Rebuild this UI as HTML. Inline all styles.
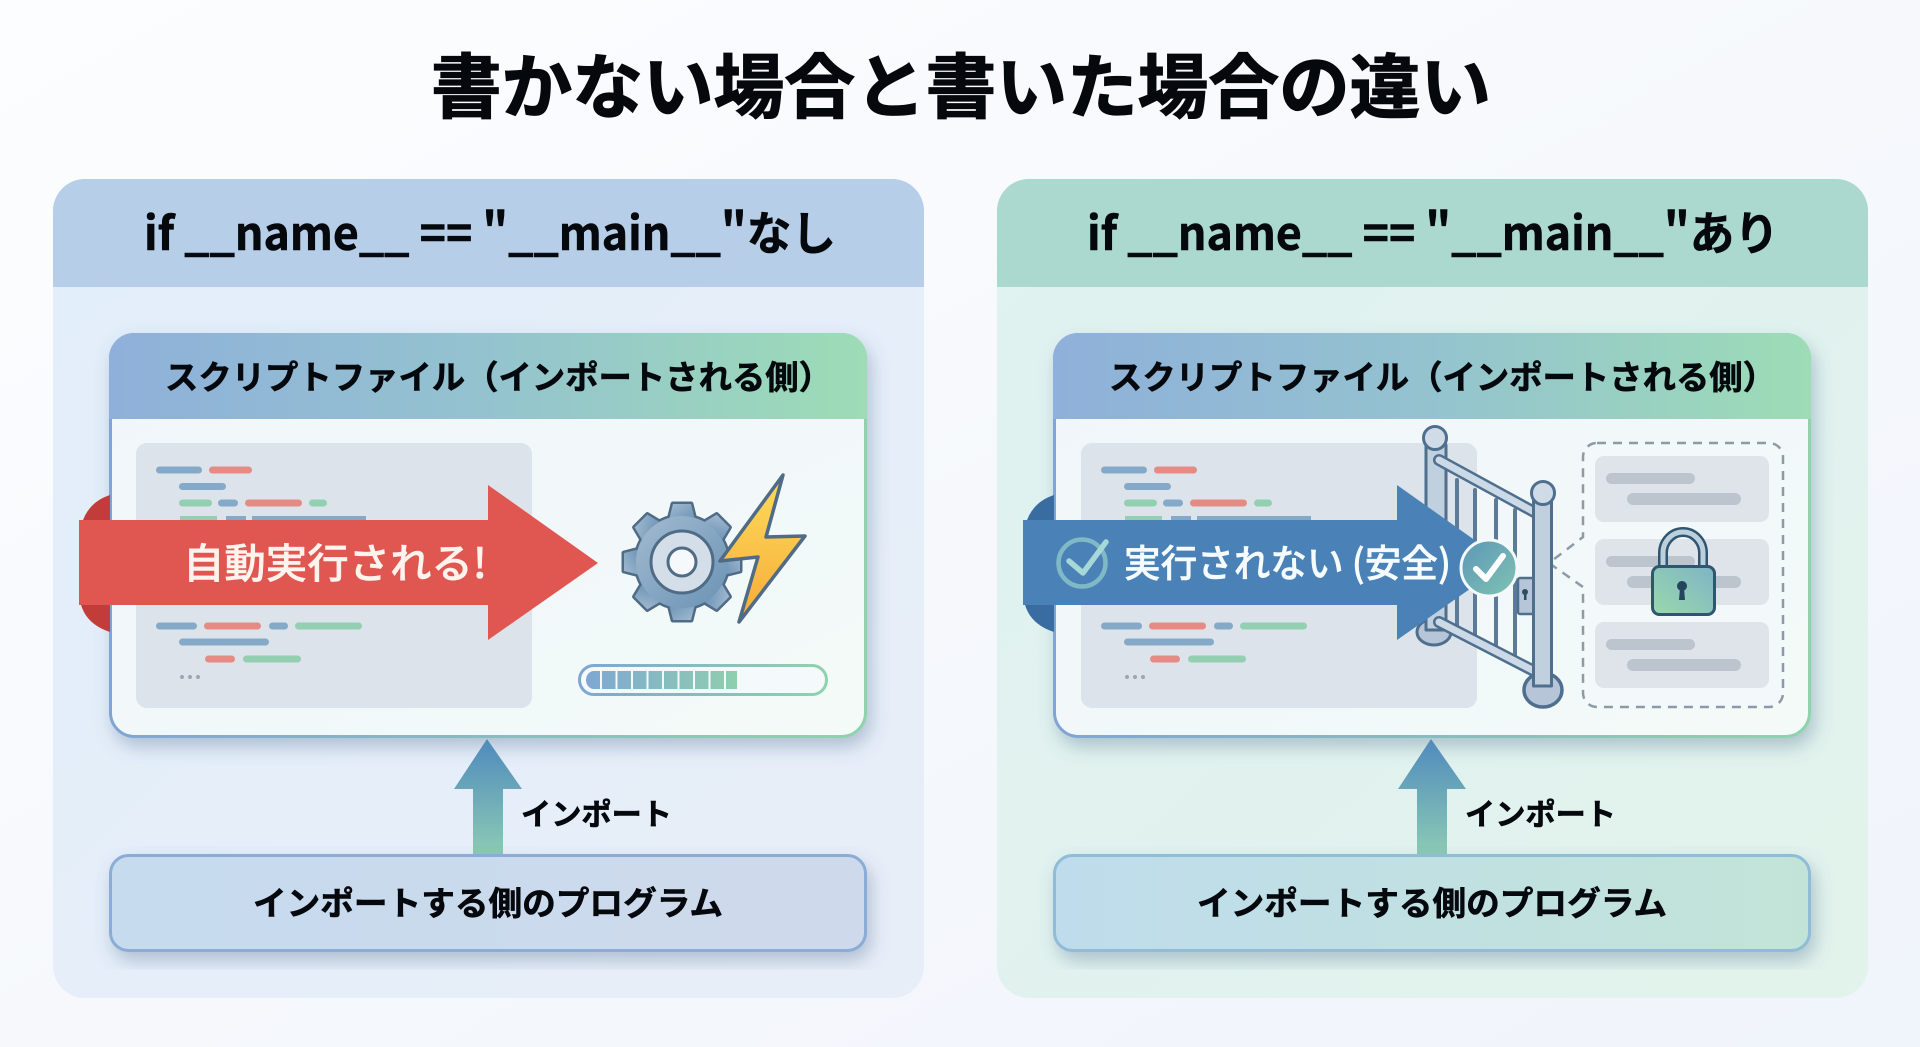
<!DOCTYPE html>
<html lang="ja">
<head>
<meta charset="utf-8">
<title>書かない場合と書いた場合の違い</title>
<style>
html,body{margin:0;padding:0;background:#f6f9fc;width:1920px;height:1047px;overflow:hidden}
svg{display:block}
text{font-family:"Noto Sans CJK JP","Liberation Sans",sans-serif;font-weight:700;fill:#05080c;stroke:#05080c;stroke-width:0.6px}
</style>
</head>
<body>
<svg xmlns="http://www.w3.org/2000/svg" width="1920" height="1047" viewBox="0 0 1920 1047">
<defs>
<linearGradient id="bg" x1="0" y1="0" x2="1" y2="1"><stop offset="0" stop-color="#fcfdfe"/><stop offset="1" stop-color="#f0f4fb"/></linearGradient>
<linearGradient id="pl" x1="0" y1="0" x2="1" y2="1"><stop offset="0" stop-color="#e2eefa"/><stop offset="1" stop-color="#e8eef8"/></linearGradient>
<linearGradient id="pr" x1="0" y1="0" x2="1" y2="1"><stop offset="0" stop-color="#e0f2f1"/><stop offset="1" stop-color="#e2f3ec"/></linearGradient>
<linearGradient id="hd" x1="0" y1="0" x2="1" y2="0"><stop offset="0" stop-color="#8fb0da"/><stop offset="0.5" stop-color="#94c3cf"/><stop offset="1" stop-color="#9ddcb6"/></linearGradient>
<linearGradient id="bd" x1="0" y1="0" x2="1" y2="0"><stop offset="0" stop-color="#7fa6d2"/><stop offset="1" stop-color="#8fd3ad"/></linearGradient>
<linearGradient id="cf" x1="0" y1="0" x2="1" y2="1"><stop offset="0" stop-color="#f1f6fb"/><stop offset="1" stop-color="#f3faf8"/></linearGradient>
<linearGradient id="up" x1="0" y1="0" x2="0" y2="1"><stop offset="0" stop-color="#4f8abd"/><stop offset="1" stop-color="#8ccbb4"/></linearGradient>
<linearGradient id="lb" x1="0" y1="0" x2="1" y2="0"><stop offset="0" stop-color="#c6dbee"/><stop offset="1" stop-color="#cfd9ec"/></linearGradient>
<linearGradient id="lbr" x1="0" y1="0" x2="1" y2="0"><stop offset="0" stop-color="#bfdcec"/><stop offset="1" stop-color="#c2e4d8"/></linearGradient>
<linearGradient id="bolt" x1="0" y1="0" x2="0" y2="1"><stop offset="0" stop-color="#fbdc5a"/><stop offset="1" stop-color="#f8ab3a"/></linearGradient>
<linearGradient id="prog" gradientUnits="userSpaceOnUse" x1="586" y1="0" x2="737" y2="0"><stop offset="0" stop-color="#7fa7d2"/><stop offset="1" stop-color="#8fcfae"/></linearGradient>
<linearGradient id="lockb" x1="0" y1="1" x2="1" y2="0"><stop offset="0" stop-color="#9bd8ac"/><stop offset="1" stop-color="#7db4c6"/></linearGradient>
<linearGradient id="chk" x1="0" y1="0" x2="1" y2="1"><stop offset="0" stop-color="#5d96b8"/><stop offset="1" stop-color="#7fc4b2"/></linearGradient>
<linearGradient id="gearb" x1="0" y1="0" x2="1" y2="1"><stop offset="0" stop-color="#a3bbd0"/><stop offset="1" stop-color="#6a92b5"/></linearGradient>
<filter id="sh" x="-10%" y="-10%" width="120%" height="130%"><feDropShadow dx="4" dy="9" stdDeviation="9" flood-color="#506c90" flood-opacity="0.36"/></filter>
<g id="code">
<rect x="136" y="443" width="396" height="265" rx="11" fill="#dde3ea"/>
<g fill="#85a9c9">
<rect x="156" y="466.500" width="46" height="7" rx="3.500"/><rect x="179" y="483" width="47" height="7" rx="3.500"/>
<rect x="218" y="499.500" width="20" height="7" rx="3.500"/><rect x="226" y="516" width="20" height="7"/><rect x="252" y="516" width="114" height="7"/>
<rect x="156" y="622.500" width="41" height="7" rx="3.500"/><rect x="269" y="622.500" width="19" height="7" rx="3.500"/><rect x="179" y="638.500" width="90" height="7" rx="3.500"/>
</g>
<g fill="#e58b84">
<rect x="209" y="466.500" width="43" height="7" rx="3.500"/><rect x="245" y="499.500" width="57" height="7" rx="3.500"/>
<rect x="204" y="622.500" width="57" height="7" rx="3.500"/><rect x="205" y="655.500" width="30" height="7" rx="3.500"/>
</g>
<g fill="#93cfb1">
<rect x="179" y="499.500" width="33" height="7" rx="3.500"/><rect x="309" y="499.500" width="18" height="7" rx="3.500"/><rect x="180" y="516" width="37" height="7"/>
<rect x="295" y="622.500" width="67" height="7" rx="3.500"/><rect x="243" y="655.500" width="58" height="7" rx="3.500"/>
</g>
<g fill="#9aa6b4"><circle cx="182" cy="677" r="2"/><circle cx="190" cy="677" r="2"/><circle cx="198" cy="677" r="2"/></g>
</g>
<g id="cardbase">
<rect x="110.500" y="334.500" width="755" height="402" rx="24" fill="url(#cf)" stroke="url(#bd)" stroke-width="3" filter="url(#sh)"/>
<path d="M109 419V358a25 25 0 0 1 25-25H842a25 25 0 0 1 25 25V419Z" fill="url(#hd)"/>
</g>
<g id="upar"><path d="M487 739L522 789H503V855H473V789H454Z" fill="url(#up)"/></g>
<path id="tooth" d="M-13 -42L-9 -58H9L13 -42Z"/>
<g id="gearshape">
<use href="#tooth"/><use href="#tooth" transform="rotate(45)"/><use href="#tooth" transform="rotate(90)"/><use href="#tooth" transform="rotate(135)"/>
<use href="#tooth" transform="rotate(180)"/><use href="#tooth" transform="rotate(225)"/><use href="#tooth" transform="rotate(270)"/><use href="#tooth" transform="rotate(315)"/>
<circle r="46"/>
</g>
<g id="inner">
<rect x="1595" y="0" width="174" height="66" rx="9" fill="#dfe4ea"/>
<rect x="1606" y="17" width="89" height="11" rx="5.500" fill="#bcc4ce"/>
<rect x="1627" y="37" width="114" height="12" rx="6" fill="#bcc4ce"/>
</g>
</defs>

<rect width="1920" height="1047" fill="url(#bg)"/>

<text x="431" y="112" font-size="70" textLength="1060" lengthAdjust="spacingAndGlyphs" style="stroke-width:1.2px">書かない場合と書いた場合の違い</text>

<!-- LEFT PANEL -->
<rect x="53" y="179" width="871" height="819" rx="32" fill="url(#pl)"/>
<path d="M53 287V211a32 32 0 0 1 32-32H892a32 32 0 0 1 32 32V287Z" fill="#b6cee7"/>
<text x="144" y="250" font-size="46" textLength="692" lengthAdjust="spacingAndGlyphs">if __name__ == "__main__"なし</text>

<use href="#cardbase"/>
<text x="165" y="389" font-size="33" textLength="667" lengthAdjust="spacingAndGlyphs">スクリプトファイル（インポートされる側）</text>
<use href="#code"/>

<path d="M110 495Q79 505 79 545V590Q79 622 110 632Z" fill="#c23c39"/>
<path d="M79 520H488V485L598 563L488 640V605H79Z" fill="#e05751"/>
<text x="183" y="578" font-size="41" textLength="304" lengthAdjust="spacingAndGlyphs" style="fill:#fff3ee;stroke:#fff3ee;stroke-width:0.5px;font-weight:500">自動実行される!</text>

<!-- gear -->
<g transform="translate(682,562)">
<use href="#gearshape" fill="#4f6b86" stroke="#4f6b86" stroke-width="5" stroke-linejoin="round"/>
<use href="#gearshape" fill="url(#gearb)"/>
<circle r="31" fill="#d3dee8" stroke="#4f6b86" stroke-width="3"/>
<circle r="14" fill="#f6f9fb" stroke="#4f6b86" stroke-width="3"/>
</g>
<path d="M783 475L720 561L758 557L739 622L805 536L766 537Z" fill="url(#bolt)" stroke="#4f6b86" stroke-width="3.500" stroke-linejoin="round"/>

<!-- progress -->
<rect x="579.500" y="665.500" width="247" height="29" rx="14.500" fill="#f4f9fb" stroke="url(#bd)" stroke-width="3"/>
<g fill="url(#prog)">
<path d="M600 671V689H594a8 9 0 0 1-8-9a8 9 0 0 1 8-9Z"/>
<rect x="602" y="671" width="13.500" height="18"/><rect x="617.500" y="671" width="13.500" height="18"/><rect x="633" y="671" width="13.500" height="18"/>
<rect x="648.500" y="671" width="13.500" height="18"/><rect x="664" y="671" width="13.500" height="18"/><rect x="679.500" y="671" width="13.500" height="18"/>
<rect x="695" y="671" width="13.500" height="18"/><rect x="710.500" y="671" width="13.500" height="18"/><rect x="726" y="671" width="11" height="18"/>
</g>

<use href="#upar"/>
<text x="521" y="825" font-size="30" textLength="151" lengthAdjust="spacingAndGlyphs">インポート</text>
<rect x="110.500" y="855.500" width="755" height="95" rx="18" fill="url(#lb)" stroke="#8aacd6" stroke-width="3" filter="url(#sh)"/>
<text x="253" y="915" font-size="33" textLength="470" lengthAdjust="spacingAndGlyphs">インポートする側のプログラム</text>

<!-- RIGHT PANEL -->
<rect x="997" y="179" width="871" height="819" rx="32" fill="url(#pr)"/>
<path d="M997 287V211a32 32 0 0 1 32-32H1836a32 32 0 0 1 32 32V287Z" fill="#abd9cf"/>
<text x="1087" y="250" font-size="46" textLength="692" lengthAdjust="spacingAndGlyphs">if __name__ == "__main__"あり</text>

<use href="#cardbase" transform="translate(944,0)"/>
<text x="1109" y="389" font-size="33" textLength="667" lengthAdjust="spacingAndGlyphs">スクリプトファイル（インポートされる側）</text>
<use href="#code" transform="translate(945,0)"/>

<!-- dashed box -->
<path d="M1597 443H1769a14 14 0 0 1 14 14V693a14 14 0 0 1-14 14H1597a14 14 0 0 1-14-14V587L1549 563L1583 537V457a14 14 0 0 1 14-14Z" fill="#f3f8fa" stroke="#8d9ba9" stroke-width="2.500" stroke-dasharray="9 7"/>
<use href="#inner" transform="translate(0,456)"/>
<use href="#inner" transform="translate(0,539)"/>
<use href="#inner" transform="translate(0,622)"/>

<!-- lock -->
<path d="M1663 570V553a20 21 0 0 1 40 0V570" fill="none" stroke="#2f5570" stroke-width="10"/>
<path d="M1663 570V553a20 21 0 0 1 40 0V570" fill="none" stroke="#bccfdd" stroke-width="5"/>
<rect x="1652.500" y="566.500" width="62" height="48" rx="7" fill="url(#lockb)" stroke="#2f5570" stroke-width="3"/>
<circle cx="1682" cy="586" r="5" fill="#23455e"/><path d="M1680 588H1684L1685 600H1679Z" fill="#23455e"/>

<!-- gate -->
<g stroke-linecap="round" stroke-linejoin="round">
<g stroke="#5d7a98" stroke-width="4" fill="none">
<line x1="1457" y1="480" x2="1457" y2="632"/><line x1="1475" y1="490" x2="1475" y2="645"/><line x1="1496" y1="500" x2="1496" y2="655"/><line x1="1515" y1="510" x2="1515" y2="665"/>
</g>
<ellipse cx="1434" cy="632" rx="17" ry="13" fill="#b6c6d8" stroke="#4f6f8e" stroke-width="3"/>
<rect x="1426" y="445" width="20" height="185" fill="#c1d0df" stroke="#4f6f8e" stroke-width="3"/>
<circle cx="1435" cy="438" r="11.500" fill="#cfdbe7" stroke="#4f6f8e" stroke-width="3"/>
<line x1="1439" y1="460" x2="1536" y2="513" stroke="#4f6f8e" stroke-width="12"/>
<line x1="1439" y1="460" x2="1536" y2="513" stroke="#ccd9e6" stroke-width="7"/>
<line x1="1439" y1="622" x2="1536" y2="672" stroke="#4f6f8e" stroke-width="12"/>
<line x1="1439" y1="622" x2="1536" y2="672" stroke="#ccd9e6" stroke-width="7"/>
<rect x="1518" y="578" width="16" height="36" rx="2" fill="#b6c6d8" stroke="#4f6f8e" stroke-width="2.500"/>
<circle cx="1525" cy="592" r="3" fill="#2f4c66"/><rect x="1524" y="592" width="2.500" height="8" fill="#2f4c66"/>
<ellipse cx="1543" cy="690" rx="19" ry="17" fill="#b6c6d8" stroke="#4f6f8e" stroke-width="3.500"/>
<rect x="1533.500" y="500" width="18" height="186" fill="#c1d0df" stroke="#4f6f8e" stroke-width="3"/>
<circle cx="1543" cy="493" r="11.500" fill="#cfdbe7" stroke="#4f6f8e" stroke-width="3"/>
</g>

<!-- blue arrow -->
<path d="M1054 495Q1023 505 1023 545V590Q1023 622 1054 632Z" fill="#396da2"/>
<path d="M1023 520H1397V485L1507 563L1397 640V605H1023Z" fill="#4a81b7"/>
<circle cx="1082" cy="563" r="23.500" fill="none" stroke="#7fb9c6" stroke-width="4.500"/>
<path d="M1069 561L1083 573L1106 542" fill="none" stroke="#a7d8d8" stroke-width="5.500" stroke-linecap="round" stroke-linejoin="round"/>
<text x="1124" y="577" font-size="38" textLength="327" lengthAdjust="spacingAndGlyphs" style="fill:#f6fbfd;stroke:#f6fbfd;stroke-width:0.5px;font-weight:500">実行されない (安全)</text>
<circle cx="1489" cy="568" r="28" fill="url(#chk)" stroke="#f4f9fb" stroke-width="3"/>
<path d="M1476 569L1486 579L1503 556" fill="none" stroke="#fff" stroke-width="6" stroke-linecap="round" stroke-linejoin="round"/>

<use href="#upar" transform="translate(944,0)"/>
<text x="1465" y="825" font-size="30" textLength="151" lengthAdjust="spacingAndGlyphs">インポート</text>
<rect x="1054.500" y="855.500" width="755" height="95" rx="18" fill="url(#lbr)" stroke="#8fbcd6" stroke-width="3" filter="url(#sh)"/>
<text x="1197" y="915" font-size="33" textLength="470" lengthAdjust="spacingAndGlyphs">インポートする側のプログラム</text>
</svg>
</body>
</html>
